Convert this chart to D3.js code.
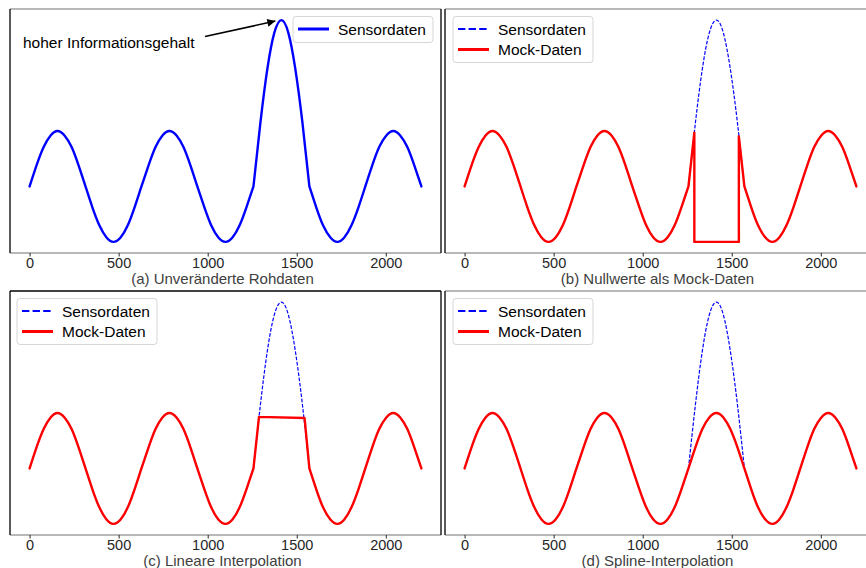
<!DOCTYPE html>
<html lang="de">
<head>
<meta charset="UTF-8">
<title>Mock-Daten</title>
<script src="https://d3js.org/d3.v7.min.js"></script>
<style>
  body { margin: 0; background: #fff; }
  text { font-family: "Liberation Sans", Arial, sans-serif; }
</style>
</head>
<body>
<script>
// sample positions and the raw sensor signal
var xValues = [0, 39, 79, 118, 157, 196, 236, 275, 314, 353, 393, 432, 471, 511, 550, 589,
               628, 668, 707, 746, 785, 825, 864, 903, 942, 982, 1021, 1060, 1100, 1139, 1178, 1217,
               1257, 1296, 1335, 1374, 1414, 1453, 1492, 1532,
               1571, 1610, 1649, 1689, 1728, 1767, 1806, 1846, 1885, 1924, 1963, 2003, 2042, 2081, 2121, 2160, 2200];
var sensorValues = [0, 0.38, 0.71, 0.92, 1, 0.92, 0.71, 0.38, 0, -0.38, -0.71, -0.92, -1, -0.92, -0.71, -0.38,
                    0, 0.38, 0.71, 0.92, 1, 0.92, 0.71, 0.38, 0, -0.38, -0.71, -0.92, -1, -0.92, -0.71, -0.38,
                    0, 1.15, 2.12, 2.77, 3, 2.77, 2.12, 1.15,
                    0, -0.38, -0.71, -0.92, -1, -0.92, -0.71, -0.38, 0, 0.38, 0.71, 0.92, 1, 0.92, 0.71, 0.38, 0];
var sensorCorners = [1257, 1571];

// (b) gap filled with null values
var nullMockX = [0, 39, 79, 118, 157, 196, 236, 275, 314, 353, 393, 432, 471, 511, 550, 589,
                 628, 668, 707, 746, 785, 825, 864, 903, 942, 982, 1021, 1060, 1100, 1139, 1178, 1217,
                 1257, 1290, 1290, 1540, 1540,
                 1571, 1610, 1649, 1689, 1728, 1767, 1806, 1846, 1885, 1924, 1963, 2003, 2042, 2081, 2121, 2160, 2200];
var nullMockY = [0, 0.38, 0.71, 0.92, 1, 0.92, 0.71, 0.38, 0, -0.38, -0.71, -0.92, -1, -0.92, -0.71, -0.38,
                 0, 0.38, 0.71, 0.92, 1, 0.92, 0.71, 0.38, 0, -0.38, -0.71, -0.92, -1, -0.92, -0.71, -0.38,
                 0, 0.97, -1, -1, 0.9,
                 0, -0.38, -0.71, -0.92, -1, -0.92, -0.71, -0.38, 0, 0.38, 0.71, 0.92, 1, 0.92, 0.71, 0.38, 0];

// (c) gap bridged linearly
var linearMockX = [0, 39, 79, 118, 157, 196, 236, 275, 314, 353, 393, 432, 471, 511, 550, 589,
                   628, 668, 707, 746, 785, 825, 864, 903, 942, 982, 1021, 1060, 1100, 1139, 1178, 1217,
                   1257, 1288, 1544,
                   1571, 1610, 1649, 1689, 1728, 1767, 1806, 1846, 1885, 1924, 1963, 2003, 2042, 2081, 2121, 2160, 2200];
var linearMockY = [0, 0.38, 0.71, 0.92, 1, 0.92, 0.71, 0.38, 0, -0.38, -0.71, -0.92, -1, -0.92, -0.71, -0.38,
                   0, 0.38, 0.71, 0.92, 1, 0.92, 0.71, 0.38, 0, -0.38, -0.71, -0.92, -1, -0.92, -0.71, -0.38,
                   0, 0.93, 0.91,
                   0, -0.38, -0.71, -0.92, -1, -0.92, -0.71, -0.38, 0, 0.38, 0.71, 0.92, 1, 0.92, 0.71, 0.38, 0];
var mockCorners = [1257, 1288, 1290, 1540, 1544, 1571];

// (d) spline through the gap
var splineMockY = [0, 0.38, 0.71, 0.92, 1, 0.92, 0.71, 0.38, 0, -0.38, -0.71, -0.92, -1, -0.92, -0.71, -0.38,
                   0, 0.38, 0.71, 0.92, 1, 0.92, 0.71, 0.38, 0, -0.38, -0.71, -0.92, -1, -0.92, -0.71, -0.38,
                   0, 0.38, 0.71, 0.92, 1, 0.92, 0.71, 0.38,
                   0, -0.38, -0.71, -0.92, -1, -0.92, -0.71, -0.38, 0, 0.38, 0.71, 0.92, 1, 0.92, 0.71, 0.38, 0];

var xTicks = [0, 500, 1000, 1500, 2000];
var captions = ['(a) Unveränderte Rohdaten', '(b) Nullwerte als Mock-Daten',
                '(c) Lineare Interpolation', '(d) Spline-Interpolation'];
var seriesNames = ['Sensordaten', 'Mock-Daten'];
var annotationText = 'hoher Informationsgehalt';
var annotationTarget = [1380, 3];

var width = 866, height = 568;
var axW = 431, axH = 244;
var blue = '#0000ff', red = '#ff0000';

var svg = d3.select('body').append('svg')
            .attr('width', width)
            .attr('height', height);

svg.append('defs').append('marker')
   .attr('id', 'arrow')
   .attr('viewBox', '0 0 10 10')
   .attr('refX', 10).attr('refY', 5)
   .attr('markerWidth', 6).attr('markerHeight', 5)
   .attr('markerUnits', 'strokeWidth')
   .attr('orient', 'auto')
   .append('path').attr('d', 'M0,0L10,5L0,10Z').attr('fill', '#000');

// 5% margins like matplotlib
var xExt = d3.extent(xValues), yExt = d3.extent(sensorValues);
var xPad = (xExt[1] - xExt[0]) * 0.05, yPad = (yExt[1] - yExt[0]) * 0.05;

var panels = [
  {left: 10,  top: 9,   mockX: null,        mockY: null,        topSpine: '#a0a0a0', legendX: 293, caption: captions[0]},
  {left: 445, top: 9,   mockX: nullMockX,   mockY: nullMockY,   topSpine: '#a0a0a0', legendX: 453, caption: captions[1]},
  {left: 10,  top: 291, mockX: linearMockX, mockY: linearMockY, topSpine: '#000',    legendX: 17,  caption: captions[2]},
  {left: 445, top: 291, mockX: xValues,     mockY: splineMockY, topSpine: '#a0a0a0', legendX: 453, caption: captions[3]}
];

function splitAtCorners(points, corners) {
  var out = [], cur = [points[0]];
  for (var i = 1; i < points.length; i++) {
    cur.push(points[i]);
    if (corners.indexOf(points[i][0]) >= 0) { out.push(cur); cur = [points[i]]; }
  }
  if (cur.length > 1) out.push(cur);
  return out;
}

panels.forEach(function(p, idx) {
  var x = d3.scaleLinear().domain([xExt[0] - xPad, xExt[1] + xPad]).range([p.left, p.left + axW]);
  var y = d3.scaleLinear().domain([yExt[0] - yPad, yExt[1] + yPad]).range([p.top + axH, p.top]);
  var bottom = p.top + axH;
  var g = svg.append('g');

  var line = d3.line()
               .x(function(d) { return x(d[0]); })
               .y(function(d) { return y(d[1]); })
               .curve(d3.curveNatural);

  function drawSeries(xs, ys, corners, color, w, dash) {
    var pts = xs.map(function(v, i) { return [v, ys[i]]; });
    var d = splitAtCorners(pts, corners).map(function(s) { return line(s); }).join('');
    g.append('path')
     .attr('d', d)
     .attr('fill', 'none')
     .attr('stroke', color)
     .attr('stroke-width', w)
     .attr('stroke-dasharray', dash || null)
     .attr('stroke-linejoin', 'round')
     .attr('stroke-linecap', dash ? 'butt' : 'round');
  }

  if (p.mockX) {
    drawSeries(xValues, sensorValues, sensorCorners, blue, 1.2, '3.7,1.6');
    drawSeries(p.mockX, p.mockY, mockCorners, red, 2.4);
  } else {
    drawSeries(xValues, sensorValues, sensorCorners, blue, 2.4);
  }

  // spines
  g.append('line').attr('x1', p.left).attr('x2', p.left + axW).attr('y1', p.top).attr('y2', p.top)
   .attr('stroke', p.topSpine).attr('stroke-width', 1.3);
  g.append('line').attr('x1', p.left).attr('x2', p.left + axW).attr('y1', bottom).attr('y2', bottom)
   .attr('stroke', '#a0a0a0').attr('stroke-width', 1.3);
  [p.left, p.left + axW].forEach(function(sx) {
    g.append('line').attr('x1', sx).attr('x2', sx).attr('y1', p.top).attr('y2', bottom)
     .attr('stroke', '#000').attr('stroke-width', 1.3);
  });

  var axis = g.append('g')
              .attr('transform', 'translate(0,' + bottom + ')')
              .call(d3.axisBottom(x).tickValues(xTicks).tickFormat(d3.format('d'))
                      .tickSize(3.5).tickPadding(1));
  axis.select('.domain').remove();
  axis.selectAll('.tick line').attr('stroke', '#262626').attr('stroke-width', 1);
  axis.selectAll('.tick text')
      .attr('fill', '#262626')
      .style('font-size', '14.5px')
      .style('font-family', '"Liberation Sans", Arial, sans-serif');

  g.append('text')
   .attr('x', p.left + axW / 2 - 3)
   .attr('y', bottom + 30.5)
   .attr('text-anchor', 'middle')
   .attr('fill', '#404040')
   .style('font-size', '15px')
   .text(p.caption);

  // legend
  var entries = p.mockX
    ? [{name: seriesNames[0], color: blue, dash: '7.4,3.2'}, {name: seriesNames[1], color: red}]
    : [{name: seriesNames[0], color: blue}];
  var ly = p.top + 7.5;
  var leg = g.append('g').attr('transform', 'translate(' + p.legendX + ',' + ly + ')');
  leg.append('rect')
     .attr('width', 140).attr('height', entries.length === 1 ? 26 : 46)
     .attr('rx', 3)
     .attr('fill', '#fff').attr('fill-opacity', 0.85)
     .attr('stroke', '#d6d6d6').attr('stroke-width', 1);
  entries.forEach(function(e, i) {
    var cy = 12.5 + i * 20.5;
    leg.append('line')
       .attr('x1', 5).attr('x2', 36).attr('y1', cy).attr('y2', cy)
       .attr('stroke', e.color).attr('stroke-width', e.dash ? 2 : 3)
       .attr('stroke-dasharray', e.dash || null);
    leg.append('text')
       .attr('x', 45).attr('y', cy + 5.5)
       .attr('fill', '#000')
       .style('font-size', '15.5px')
       .text(e.name);
  });

  if (idx === 0) {
    g.append('text')
     .attr('x', p.left + 13).attr('y', p.top + 39)
     .attr('fill', '#000')
     .style('font-size', '15.5px')
     .text(annotationText);
    g.append('line')
     .attr('x1', p.left + 195).attr('y1', p.top + 27.5)
     .attr('x2', x(annotationTarget[0])).attr('y2', y(annotationTarget[1]) + 1)
     .attr('stroke', '#000').attr('stroke-width', 1.6)
     .attr('marker-end', 'url(#arrow)');
  }
});
</script>
</body>
</html>
